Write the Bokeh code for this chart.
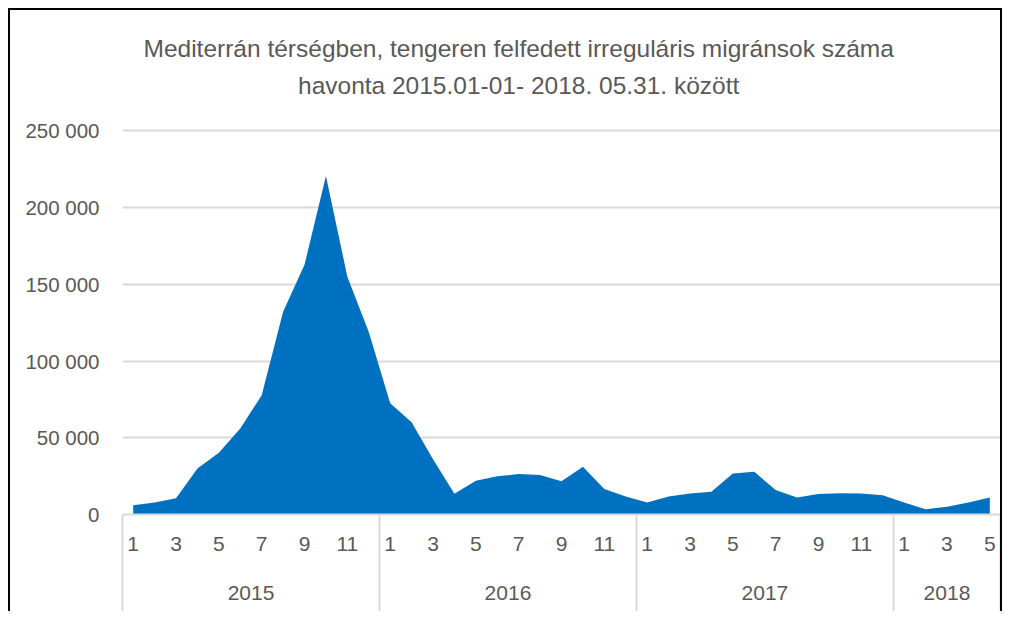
from bokeh.plotting import figure
from bokeh.models import Range1d, FixedTicker, LinearAxis, Grid, Label, ColumnDataSource
from bokeh.embed import file_html
from bokeh.resources import INLINE

# ---- data ----
title_lines = ["Mediterrán térségben, tengeren felfedett irreguláris migránsok száma",
               "havonta 2015.01-01- 2018. 05.31. között"]
years = ["2015", "2016", "2017", "2018"]
months_per_year = [12, 12, 12, 5]
values_2015 = [6000, 7900, 10600, 30000, 40200, 56000, 77800, 132200, 162800, 220600, 155000, 119000]
values_2016 = [72500, 60200, 36000, 13500, 22000, 24900, 26400, 25700, 21600, 31200, 16600, 11800]
values_2017 = [7900, 11800, 13700, 14800, 26800, 27900, 15900, 11100, 13300, 13900, 13700, 12600]
values_2018 = [7900, 3500, 5000, 7900, 11100]
y_ticks = [0, 50000, 100000, 150000, 200000, 250000]

values = values_2015 + values_2016 + values_2017 + values_2018
month_nums = [m for n in months_per_year for m in range(1, n + 1)]
idx = list(range(len(values)))

TEXT = "#595959"
GRID = "#D9D9D9"
FONT = "Liberation Sans"

# layout (pixels): plot frame spans the whole canvas height above the category axis;
# the value axis reaches 250 000 at 382 px above the baseline, the title sits above it
FRAME_PX = 502
AXIS_PX = 382
y_top = y_ticks[-1] * FRAME_PX / AXIS_PX
px = y_ticks[-1] / AXIS_PX  # data units per pixel

p = figure(width=994, height=603, x_range=Range1d(-0.5, len(values) - 0.5),
           y_range=Range1d(0, y_top), x_axis_type=None, y_axis_type=None,
           output_backend="svg", toolbar_location=None,
           min_border_left=112, min_border_right=4, min_border_top=0, min_border_bottom=99)
p.outline_line_color = None
p.background_fill_color = "white"
p.border_fill_color = "white"
p.styles = {"margin-left": "8px", "margin-top": "8px",
            "border-left": "2px solid black", "border-top": "2px solid black",
            "border-right": "2px solid black", "box-sizing": "border-box"}

yt = FixedTicker(ticks=y_ticks)
yaxis = LinearAxis(ticker=yt,
                   major_label_overrides={v: f"{v:,}".replace(",", " ") for v in y_ticks},
                   axis_line_color=None, major_tick_line_color=None, minor_tick_line_color=None,
                   major_label_text_font=FONT, major_label_text_font_size="20.5px",
                   major_label_text_color=TEXT, major_label_standoff=17)
p.add_layout(yaxis, "left")
p.add_layout(Grid(dimension=1, ticker=yt, grid_line_color=GRID, grid_line_width=2))

src = ColumnDataSource(dict(x=idx, y=values, y0=[0] * len(values)))
p.varea(x="x", y1="y0", y2="y", source=src, fill_color="#0070C0")

# month axis (odd months labelled), year separators as long minor ticks
bounds = [-0.5]
acc = -0.5
for n in months_per_year:
    acc += n
    bounds.append(acc)
label_ticks = [i for i in idx if month_nums[i] % 2 == 1]
mt = FixedTicker(ticks=label_ticks, minor_ticks=bounds)
xaxis = LinearAxis(ticker=mt,
                   major_label_overrides={i: str(month_nums[i]) for i in label_ticks},
                   major_tick_line_color=None, major_tick_out=0, major_tick_in=0,
                   minor_tick_out=99, minor_tick_in=0, minor_tick_line_color=GRID,
                   minor_tick_line_width=2, axis_line_color=GRID, axis_line_width=2,
                   major_label_text_font=FONT, major_label_text_font_size="21px",
                   major_label_text_color=TEXT, major_label_standoff=-77)
p.add_layout(xaxis, "below")

year_pos = []
start = 0
for n in months_per_year:
    year_pos.append(start + (n - 1) / 2)
    start += n
yr = FixedTicker(ticks=year_pos, minor_ticks=[])
yaxis2 = LinearAxis(ticker=yr,
                    major_label_overrides={pos: y for pos, y in zip(year_pos, years)},
                    axis_line_color=None, major_tick_line_color=None, minor_tick_line_color=None,
                    major_tick_out=0, major_tick_in=0,
                    major_label_text_font=FONT, major_label_text_font_size="21px",
                    major_label_text_color=TEXT, major_label_standoff=32)
p.add_layout(yaxis2, "below")

# title: two centred lines above the plot area
title_x = 18.0
for txt, off_px in zip(title_lines, [464, 427]):
    p.add_layout(Label(x=title_x, y=off_px * px, text=txt,
                       text_align="center", text_baseline="middle",
                       text_font=FONT, text_font_size="24.5px", text_color=TEXT))

open("out.html", "w").write(file_html(p, INLINE))
